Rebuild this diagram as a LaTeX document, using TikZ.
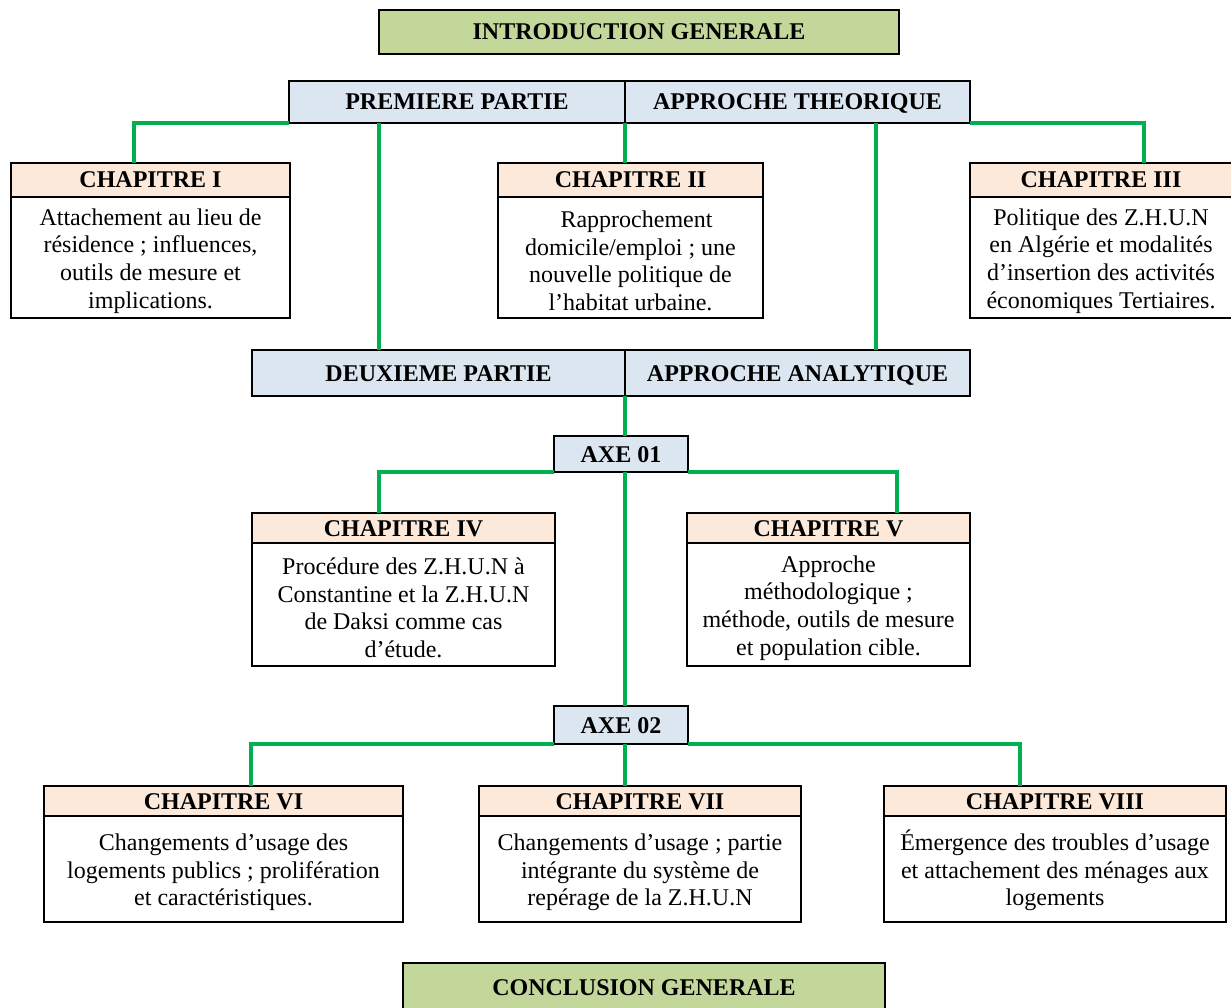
\documentclass[tikz,border=0pt]{standalone}
\usepackage{fontspec}
\setmainfont{Liberation Serif}
\definecolor{introgreen}{HTML}{C4D79B}
\definecolor{partblue}{HTML}{DCE6F1}
\definecolor{chappeach}{HTML}{FDE9D9}
\definecolor{linkgreen}{HTML}{00B050}
% taller first line so the paragraph sits a little lower in its box
\newcommand{\firstline}{\rule{0pt}{23.5pt}}
\begin{document}
\begin{tikzpicture}[x=1pt,y=-1pt,
  box/.style={draw=black,line width=2.6pt,inner sep=0pt,outer sep=0pt,align=center,
    font=\fontsize{24}{27.6}\selectfont},
  oneline/.style={text height=16pt,text depth=0pt,font=\fontsize{24}{27.6}\selectfont\bfseries},
  titlebox/.style={box,oneline,fill=introgreen},
  partbox/.style={box,oneline,fill=partblue},
  hdrbox/.style={box,oneline,fill=chappeach},
  bodybox/.style={box,fill=white},
  link/.style={draw=linkgreen,line width=3.6pt}]
\useasboundingbox (0,0) rectangle (1231,1008);

% --- titles and parts
\node[titlebox,minimum width=520,minimum height=44] (intro) at (639,32) {INTRODUCTION GENERALE};
\node[partbox,minimum width=336,minimum height=42] (p1) at (457,102) {PREMIERE PARTIE};
\node[partbox,minimum width=345,minimum height=42] (t1) at (797.5,102) {APPROCHE THEORIQUE};

% --- first part chapters
\node[hdrbox,minimum width=279,minimum height=34] (c1h) at (150.5,180) {CHAPITRE I};
\node[bodybox,minimum width=279,minimum height=121,anchor=north] (c1b) at (c1h.south) {\firstline Attachement au lieu de\\résidence ; influences,\\outils de mesure et\\implications.};
\node[hdrbox,minimum width=265,minimum height=34] (c2h) at (630.5,180) {CHAPITRE II};
\node[bodybox,minimum width=265,minimum height=121,anchor=north] (c2b) at (c2h.south) {\firstline\ \ Rapprochement\\domicile/emploi ; une\\nouvelle politique de\\l’habitat urbaine.};
\node[hdrbox,minimum width=262,minimum height=34] (c3h) at (1101,180) {CHAPITRE III};
\node[bodybox,minimum width=262,minimum height=121,anchor=north] (c3b) at (c3h.south) {\firstline Politique des Z.H.U.N\\en Algérie et modalités\\d’insertion des activités\\économiques Tertiaires.};

% --- second part
\node[partbox,minimum width=373,minimum height=46] (d1) at (438.5,373) {DEUXIEME PARTIE};
\node[partbox,minimum width=345,minimum height=46] (a2) at (797.5,373) {APPROCHE ANALYTIQUE};

\node[partbox,minimum width=134,minimum height=36] (x1) at (621,454) {AXE 01};
\node[hdrbox,minimum width=303,minimum height=30] (c4h) at (403.5,528) {CHAPITRE IV};
\node[bodybox,minimum width=303,minimum height=123,anchor=north] (c4b) at (c4h.south) {\firstline Procédure des Z.H.U.N à\\Constantine et la Z.H.U.N\\de Daksi comme cas\\d’étude.};
\node[hdrbox,minimum width=283,minimum height=30] (c5h) at (828.5,528) {CHAPITRE V};
\node[bodybox,minimum width=283,minimum height=123,anchor=north] (c5b) at (c5h.south) {\firstline Approche\\méthodologique ;\\méthode, outils de mesure\\et population cible.};

\node[partbox,minimum width=134,minimum height=38] (x2) at (621,725) {AXE 02};
\node[hdrbox,minimum width=359,minimum height=30] (c6h) at (223.5,801) {CHAPITRE VI};
\node[bodybox,minimum width=359,minimum height=106,anchor=north] (c6b) at (c6h.south) {\firstline Changements d’usage des\\logements publics ; prolifération\\et caractéristiques.};
\node[hdrbox,minimum width=322,minimum height=30] (c7h) at (640,801) {CHAPITRE VII};
\node[bodybox,minimum width=322,minimum height=106,anchor=north] (c7b) at (c7h.south) {\firstline Changements d’usage ; partie\\intégrante du système de\\repérage de la Z.H.U.N};
\node[hdrbox,minimum width=342,minimum height=30] (c8h) at (1055,801) {CHAPITRE VIII};
\node[bodybox,minimum width=342,minimum height=106,anchor=north] (c8b) at (c8h.south) {\firstline Émergence des troubles d’usage\\et attachement des ménages aux\\logements};

\node[titlebox,minimum width=482,minimum height=48] (concl) at (644,987) {CONCLUSION GENERALE};

% --- green connectors
\draw[link] (p1.south west) -| ([xshift=123]c1h.north west);
\draw[link] (p1.south east) -- (p1.south east |- c2h.north);
\draw[link] (t1.south east) -| ([xshift=174]c3h.north west);
\draw[link] ([xshift=127]d1.north west |- p1.south) -- ([xshift=127]d1.north west);
\draw[link] ([xshift=251]a2.north west |- t1.south) -- ([xshift=251]a2.north west);
\draw[link] (d1.south east) -- (d1.south east |- x1.north);
\draw[link] (x1.south west) -| ([xshift=127]c4h.north west);
\draw[link] (x1.south east) -| ([xshift=210]c5h.north west);
\draw[link] (d1.south east |- x1.south) -- (d1.south east |- x2.north);
\draw[link] (x2.south west) -| ([xshift=207]c6h.north west);
\draw[link] (x2.south east) -| ([xshift=136]c8h.north west);
\draw[link] (d1.south east |- x2.south) -- (d1.south east |- c7h.north);
\end{tikzpicture}
\end{document}
